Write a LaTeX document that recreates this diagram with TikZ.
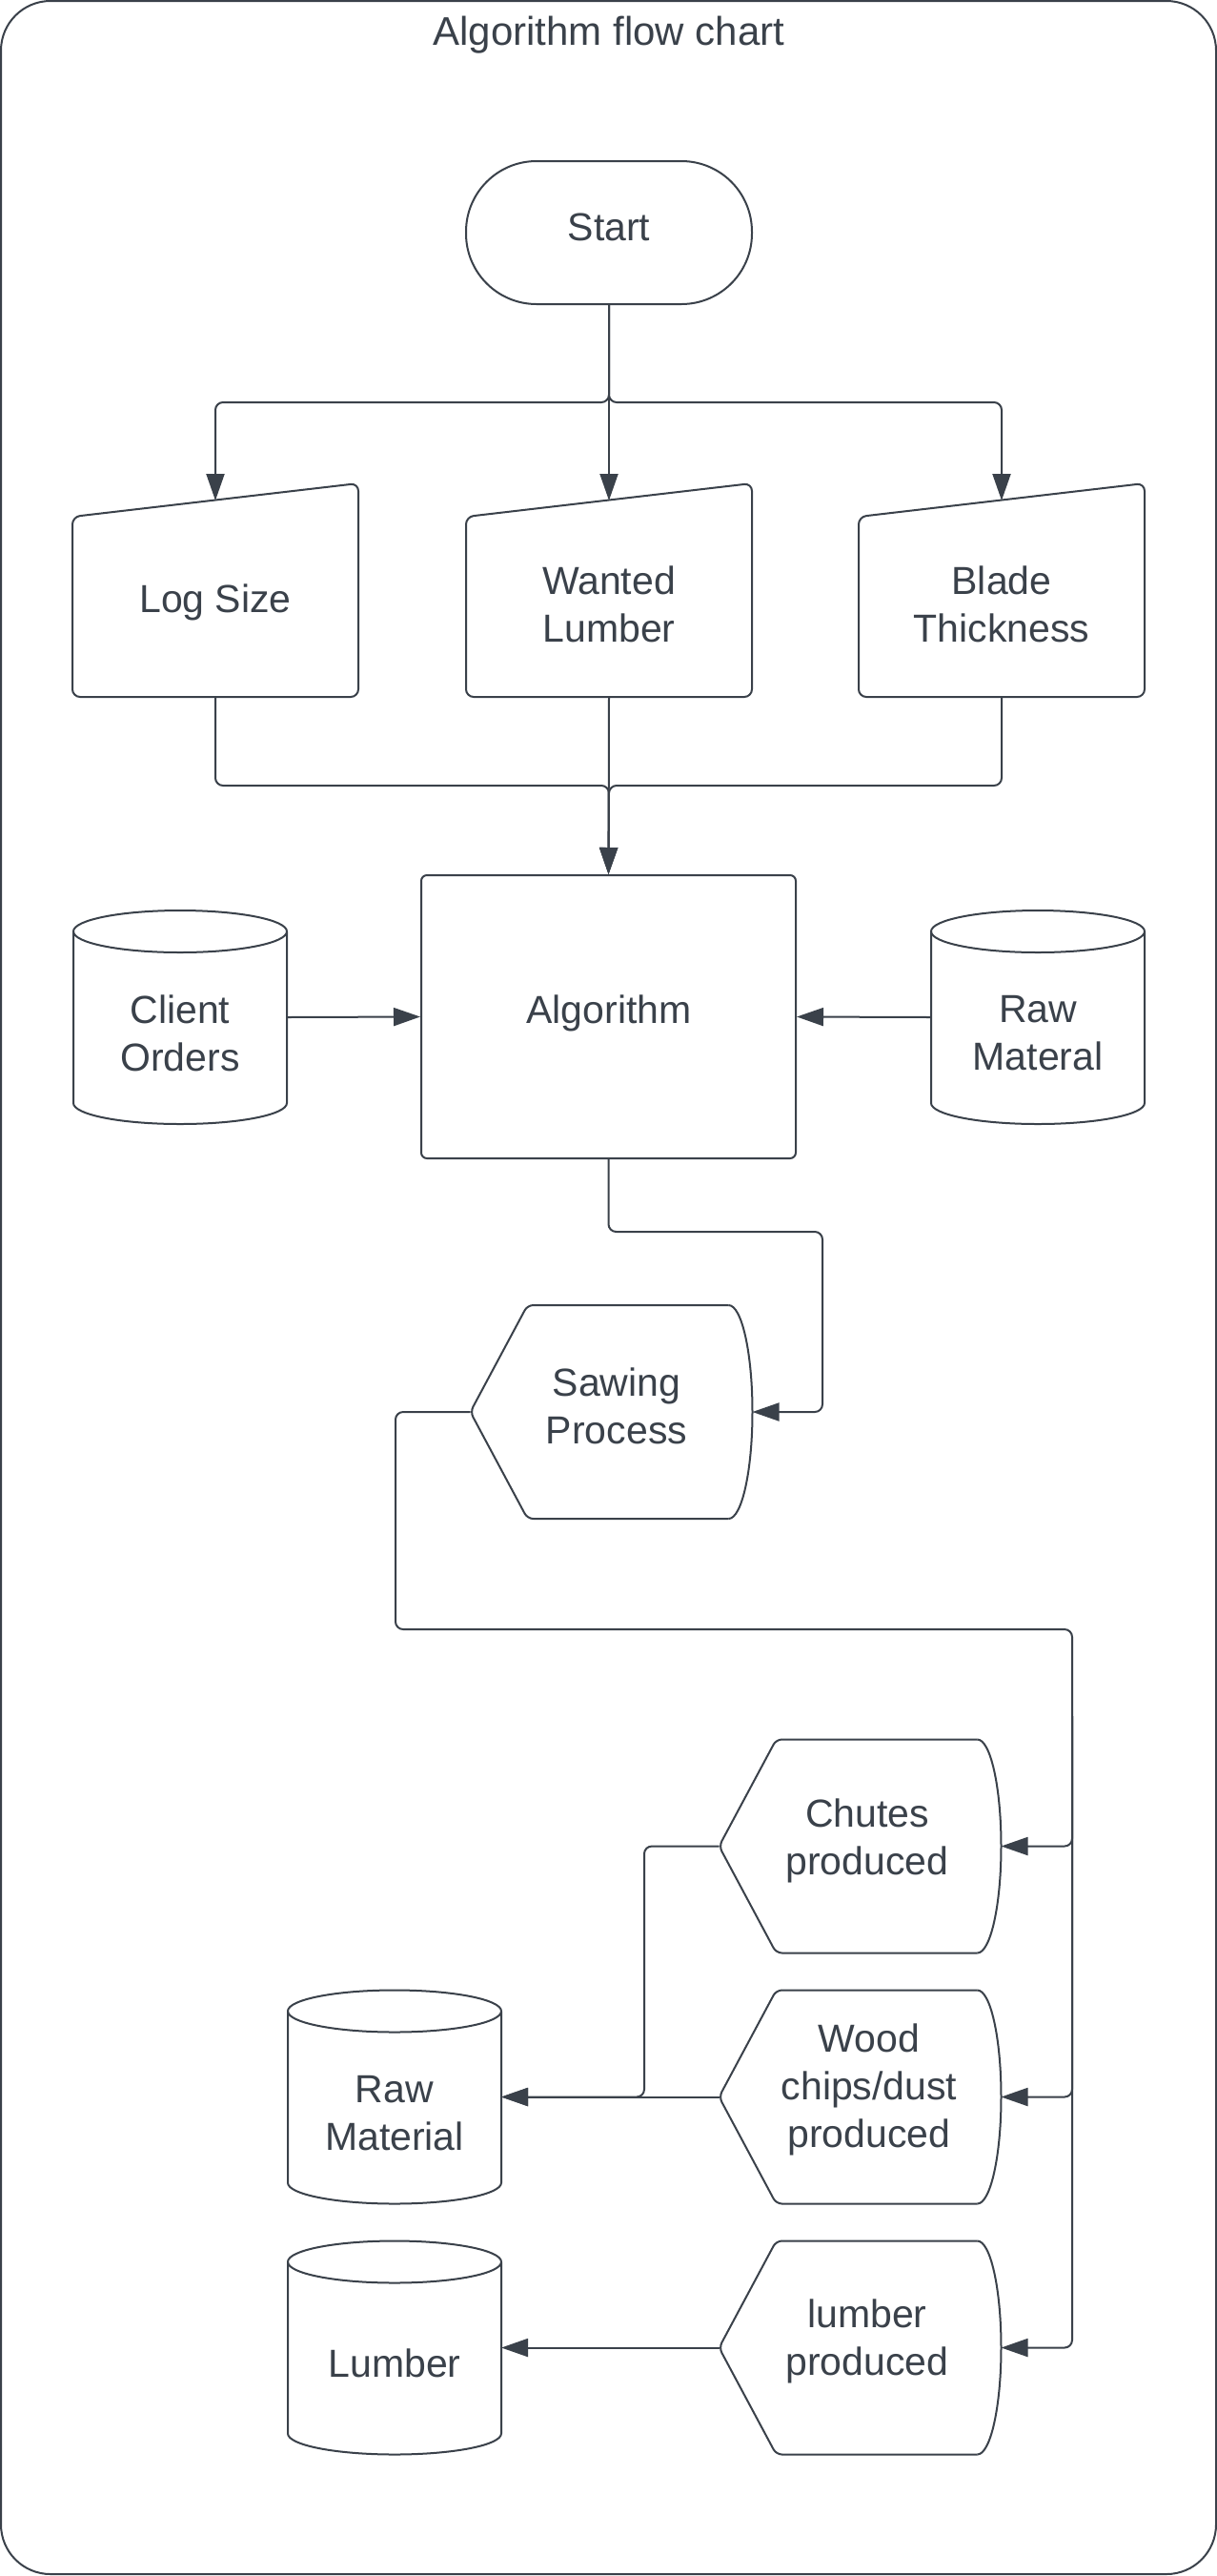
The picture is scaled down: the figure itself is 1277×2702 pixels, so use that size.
\documentclass[tikz,border=0pt]{standalone}
\usepackage{fontspec}
\setmainfont{Liberation Sans}
\usetikzlibrary{arrows.meta}
\definecolor{ink}{HTML}{3A414A}
\tikzset{
  pics/cyl/.style={code={
    \draw[shp] (-112,-90) -- (-112,90) .. controls (-112,102.15) and (-61.86,112) .. (0,112)
      .. controls (61.86,112) and (112,102.15) .. (112,90) -- (112,-90);
    \draw[shp] (0,-90) ellipse [x radius=112pt, y radius=22pt];
  }},
  pics/disp/.style={code={
    \draw[shp, rounded corners=6pt] (123,-112) -- (-88,-112) -- (-148,0) -- (-88,112) -- (123,112);
    \draw[shp] (123,-112) .. controls (136.8,-112) and (148,-61.9) .. (148,0)
      .. controls (148,61.9) and (136.8,112) .. (123,112);
  }}
}
\begin{document}
\begin{tikzpicture}[x=1pt,y=-1pt,line join=round,
  shp/.style={draw=ink, line width=2pt},
  anchorbox/.style={rectangle, inner sep=0pt, outer sep=0pt},
  txt/.style={text=ink, align=center, font=\fontsize{41}{50}\selectfont, inner sep=0pt},
  conn/.style={draw=ink, line width=2pt, rounded corners=8pt},
  arr/.style={conn, -{Triangle[length=28pt,width=19pt]}}]
\useasboundingbox (0,0) rectangle (1277,2702);
\draw[shp, rounded corners=52pt] (1,1) rectangle (1276,2700);
\node[txt, font=\fontsize{42}{50}\selectfont] (title) at (639,37) {Algorithm flow chart};

% Start
\node[shp, rectangle, rounded corners=74pt, minimum width=300pt, minimum height=150pt] (start) at (639,244) {};
\node[txt] (start-t) at (639,238) {Start};

% manual inputs
\node[anchorbox, minimum width=300pt, minimum height=206pt] (logsize) at (226,628) {};
\node[anchorbox, minimum width=300pt, minimum height=206pt] (wanted) at (639,628) {};
\node[anchorbox, minimum width=300pt, minimum height=206pt] (blade) at (1051,628) {};
\draw[shp, rounded corners=8pt] (76,542) -- (376,507) -- (376,731) -- (76,731) -- cycle;
\draw[shp, rounded corners=8pt] (489,542) -- (789,507) -- (789,731) -- (489,731) -- cycle;
\draw[shp, rounded corners=8pt] (901,542) -- (1201,507) -- (1201,731) -- (901,731) -- cycle;
\node[txt] (logsize-t) at (226,632) {Log Size};
\node[txt] (wanted-t) at (639,634) {Wanted\\Lumber};
\node[txt] (blade-t) at (1051,634) {Blade\\Thickness};

% Algorithm
\node[shp, rectangle, rounded corners=6pt, minimum width=393pt, minimum height=297pt] (alg) at (638.5,1066.5) {};
\node[txt] (alg-t) at (639,1063) {Algorithm};

% cylinders
\node[anchorbox, minimum width=224pt, minimum height=224pt] (client) at (189,1067) {};
\pic at (189,1067) {cyl};
\node[txt] (client-t) at (189,1084) {Client\\Orders};
\node[anchorbox, minimum width=224pt, minimum height=224pt] (rawm) at (1089,1067) {};
\pic at (1089,1067) {cyl};
\node[txt] (rawm-t) at (1089,1084) {Raw\\Materal};
\node[anchorbox, minimum width=224pt, minimum height=224pt] (rawm2) at (414,2199.5) {};
\pic at (414,2199.5) {cyl};
\node[txt] (rawm2-t) at (414,2217) {Raw\\Material};
\node[anchorbox, minimum width=224pt, minimum height=224pt] (lumbercyl) at (414,2462.5) {};
\pic at (414,2462.5) {cyl};
\node[txt] (lumbercyl-t) at (414,2479) {Lumber};

% displays
\node[anchorbox, minimum width=296pt, minimum height=224pt] (saw) at (641.5,1481) {};
\pic at (641.5,1481) {disp};
\node[txt] (saw-t) at (647,1475) {Sawing\\Process};
\node[anchorbox, minimum width=296pt, minimum height=224pt] (chutes) at (902.5,1936.5) {};
\pic at (902.5,1936.5) {disp};
\node[txt] (chutes-t) at (910,1931) {Chutes\\produced};
\node[anchorbox, minimum width=296pt, minimum height=224pt] (wood) at (902.5,2199.5) {};
\pic at (902.5,2199.5) {disp};
\node[txt] (wood-t) at (912,2192) {Wood\\chips/dust\\produced};
\node[anchorbox, minimum width=296pt, minimum height=224pt] (lumberp) at (902.5,2462.5) {};
\pic at (902.5,2462.5) {disp};
\node[txt] (lumberp-t) at (910,2456) {lumber\\produced};

% connectors
\coordinate (split) at (639,422);
\draw[arr] (start.south) -- (split) -| (logsize.north);
\draw[arr] (start.south) -- (split) -| (blade.north);
\draw[arr] (start.south) -- (wanted.north);
\coordinate (merge) at (639,824);
\draw[arr] (logsize.south) |- (merge) -- (alg.north);
\draw[arr] (blade.south) |- (merge) -- (alg.north);
\draw[arr] (wanted.south) -- (alg.north);
\draw[arr] (client.east) -- (alg.west);
\draw[arr] (rawm.west) -- (alg.east);
\coordinate (a1) at (863,1292);
\draw[arr] (alg.south) |- (a1) |- (saw.east);
\coordinate (b1) at (415,1709);
\coordinate (b2) at (1125,1709);
\coordinate (b3) at (1125,1800);
\draw[arr] (saw.west) -| (b1) -- (b2) |- (lumberp.east);
\draw[arr] (b3) |- (chutes.east);
\draw[arr] (b3) |- (wood.east);
\coordinate (c1) at (676,2199.5);
\draw[arr] (chutes.west) -| (c1) -- (rawm2.east);
\draw[arr] (wood.west) -- (rawm2.east);
\draw[arr] (lumberp.west) -- (lumbercyl.east);
\end{tikzpicture}
\end{document}
